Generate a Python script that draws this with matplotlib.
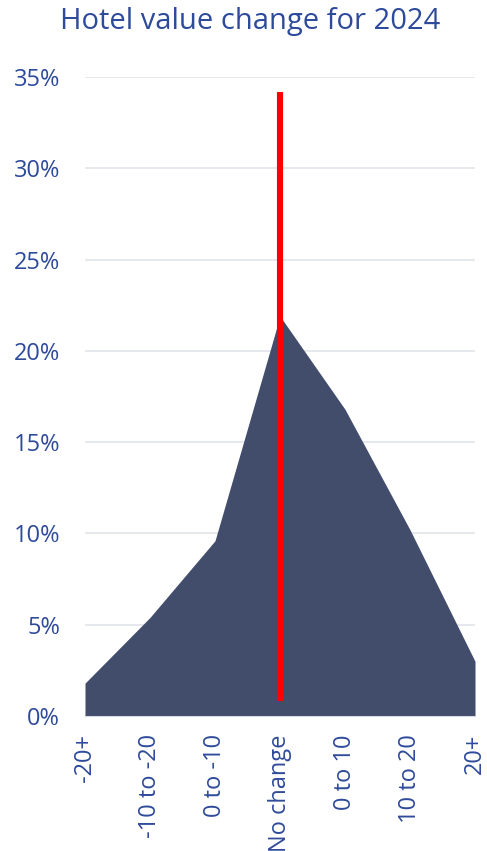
import matplotlib.pyplot as plt
import numpy as np

plt.rcParams['font.family'] = ['Open Sans', 'DejaVu Sans']

categories = ['-20+', '-10 to -20', '0 to -10', 'No change', '0 to 10', '10 to 20', '20+']
share = np.array([1.8, 5.4, 9.6, 21.9, 16.8, 10.2, 3.0]) / 100
marker_cat = 3
marker_low = 0.8 / 100
marker_high = 34.2 / 100

text_col = '#2E4A9A'

fig = plt.figure(figsize=(4.87, 8.51), dpi=100)
ax = fig.add_axes([85/487, 1 - 716/851, 390/487, 639/851])

x = np.arange(len(categories))
ax.fill_between(x, 0, share, color='#414D6B', linewidth=0, zorder=2)
ax.vlines(marker_cat, marker_low, marker_high, color='#FF0000', linewidth=4.4, zorder=3)

ax.set_xlim(0, len(categories) - 1)
ax.set_ylim(0, 0.35)
ax.set_yticks(np.arange(0, 0.36, 0.05))
ax.set_yticklabels([f'{int(round(v*100))}%' for v in np.arange(0, 0.36, 0.05)])
ax.set_xticks(x)
ax.set_xticklabels(categories, rotation=90, va='top', ha='center')

ax.grid(axis='y', color='#E3E6EC', linewidth=1.3, zorder=0)
ax.set_axisbelow(True)
for s in ax.spines.values():
    s.set_visible(False)
ax.spines['bottom'].set_visible(True)
ax.spines['bottom'].set_color('#D5DAE3')
ax.tick_params(axis='both', length=0, labelsize=17, colors=text_col)
ax.tick_params(axis='y', pad=18)
ax.tick_params(axis='x', pad=13)

fig.text(250/487, 1 - 22/851, 'Hotel value change for 2024', ha='center', va='center',
         fontsize=21, color=text_col)

fig.savefig('out.png', dpi=100)
